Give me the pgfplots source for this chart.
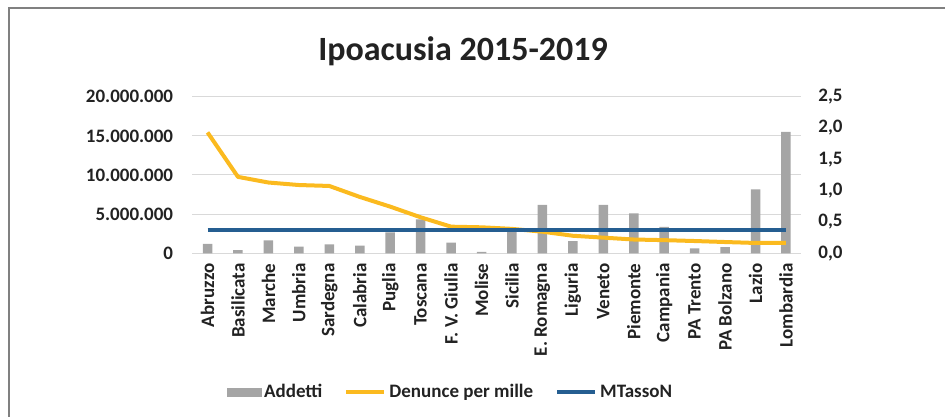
\documentclass[border=0pt]{standalone}
\usepackage{fontspec}
\setmainfont{Carlito}
\usepackage{pgfplots}
\pgfplotsset{compat=1.18}
\definecolor{barcol}{HTML}{A5A5A5}
\definecolor{yel}{HTML}{FBBA1F}
\definecolor{blu}{HTML}{255E91}
\definecolor{gridc}{HTML}{D9D9D9}
\definecolor{txt}{HTML}{222222}
\definecolor{frame}{HTML}{808080}
\begin{document}
\begin{tikzpicture}[x=1pt,y=1pt]
\path[use as bounding box] (0,0) rectangle (945,417);
\draw[frame, line width=1.5pt] (9,0) -- (9,409) -- (945,409);
\node[txt, font=\fontsize{34}{38}\selectfont\bfseries] at (463,366) {Ipoacusia 2015-2019};
\begin{axis}[
  at={(192.3pt,163.7pt)}, anchor=south west,
  scale only axis, width=608.9pt, height=156.6pt,
  xmin=-0.5, xmax=19.5, ymin=0, ymax=20000000,
  ytick={0,5000000,10000000,15000000,20000000},
  scaled y ticks=false,
  xtick={0,...,19},
  xticklabels={Abruzzo,Basilicata,Marche,Umbria,Sardegna,Calabria,Puglia,Toscana,F. V. Giulia,Molise,Sicilia,E. Romagna,Liguria,Veneto,Piemonte,Campania,PA Trento,PA Bolzano,Lazio,Lombardia},
  axis line style={draw=none},
  major tick length=0pt,
  ymajorgrids, grid style={gridc, line width=1pt},
  /pgf/number format/.cd, assume math mode=true, 1000 sep={.}, fixed, /pgfplots/.cd,
  tick label style={font=\fontsize{19}{21}\selectfont\bfseries, text=txt},
  yticklabel style={anchor=east, inner sep=0pt, xshift=-19pt},
  xticklabel style={yshift=-10pt, rotate=90, anchor=east, inner sep=0pt},
  ybar, bar width=9.5pt,
]
\addplot[fill=barcol, draw=none] coordinates {
(0,1190000) (1,420000) (2,1660000) (3,850000) (4,1150000) (5,970000) (6,2680000) (7,4340000) (8,1360000) (9,170000)
(10,2900000) (11,6170000) (12,1570000) (13,6170000) (14,5110000) (15,3360000) (16,640000) (17,800000) (18,8170000) (19,15500000)};
\end{axis}
\begin{axis}[
  at={(192.3pt,163.7pt)}, anchor=south west,
  scale only axis, width=608.9pt, height=156.6pt,
  xmin=-0.5, xmax=19.5, ymin=0, ymax=2.5,
  ytick={0,0.5,1,1.5,2,2.5},
  axis y line*=right, axis x line=none,
  axis line style={draw=none},
  major tick length=0pt,
  /pgf/number format/.cd, assume math mode=true, use comma, fixed, fixed zerofill, precision=1, /pgfplots/.cd,
  tick label style={font=\fontsize{19}{21}\selectfont\bfseries, text=txt},
  yticklabel style={anchor=west, inner sep=0pt, xshift=17pt},
  legend style={at={(0.423,-0.885)}, anchor=center, draw=none, fill=none,
    font=\fontsize{19}{21}\selectfont\bfseries, text=txt, legend columns=3,
    nodes={inner sep=1pt},
    /tikz/every odd column/.append style={column sep=2pt},
    /tikz/every even column/.append style={column sep=21pt}},
]
\addlegendimage{legend image code/.code={\fill[barcol] (0pt,-4pt) rectangle (34pt,4pt);}}
\addlegendentry{Addetti}
\addplot[yel, line width=4pt, line join=round, legend image code/.code={\draw[yel, line width=4pt] (0pt,0pt) -- (38pt,0pt);}] coordinates {
(0,1.93) (1,1.22) (2,1.13) (3,1.09) (4,1.075) (5,0.90) (6,0.745) (7,0.575) (8,0.425) (9,0.415)
(10,0.39) (11,0.345) (12,0.28) (13,0.25) (14,0.22) (15,0.21) (16,0.196) (17,0.18) (18,0.165) (19,0.165)};
\addlegendentry{Denunce per mille}
\addplot[blu, line width=4pt, legend image code/.code={\draw[blu, line width=4pt] (0pt,0pt) -- (38pt,0pt);}] coordinates {
(0,0.372) (1,0.372) (2,0.372) (3,0.372) (4,0.372) (5,0.372) (6,0.372) (7,0.372) (8,0.372) (9,0.372)
(10,0.372) (11,0.372) (12,0.372) (13,0.372) (14,0.372) (15,0.372) (16,0.372) (17,0.372) (18,0.372) (19,0.372)};
\addlegendentry{MTassoN}
\end{axis}
\end{tikzpicture}
\end{document}
